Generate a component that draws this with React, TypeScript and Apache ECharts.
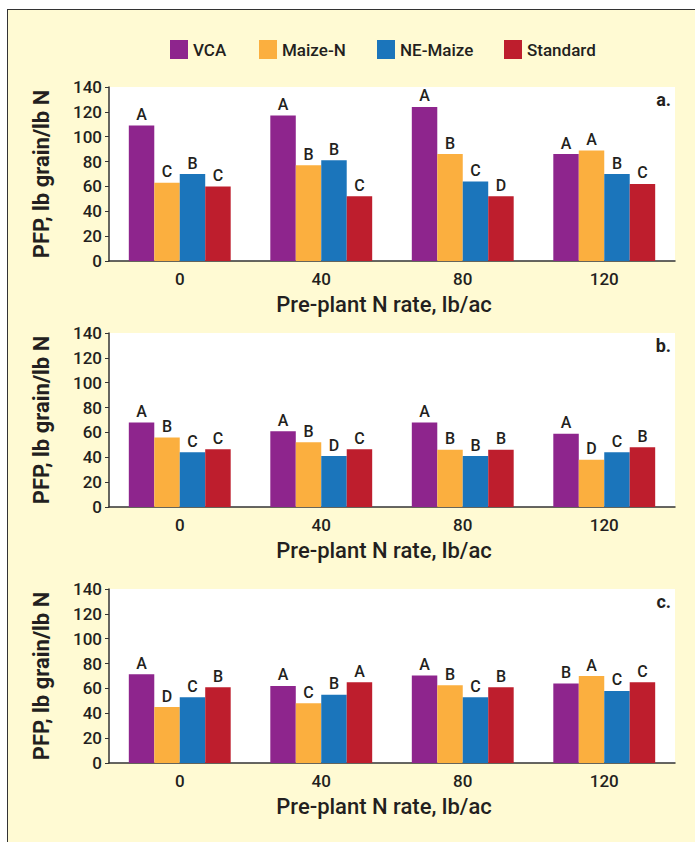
import React, { useEffect, useRef } from "react";
import * as echarts from "echarts";

const categories = ["0", "40", "80", "120"];
const seriesNames = ["VCA", "Maize-N", "NE-Maize", "Standard"];
const seriesColors = ["#8E258D", "#FBAF3F", "#1B75BB", "#BE1E2D"];
const panelLabels = ["a.", "b.", "c."];

// Panel a
const aVCA = [109, 117, 124, 86];
const aMaizeN = [63, 77, 86, 89];
const aNEMaize = [70, 81, 64, 70];
const aStandard = [60, 52, 52, 62];
const aLetters = [
  ["A", "A", "A", "A"],
  ["C", "B", "B", "A"],
  ["B", "B", "C", "B"],
  ["C", "C", "D", "C"],
];

// Panel b
const bVCA = [68, 61, 68, 59];
const bMaizeN = [56, 52, 46, 38];
const bNEMaize = [44, 41, 41, 44];
const bStandard = [46.5, 46.5, 46, 48];
const bLetters = [
  ["A", "A", "A", "A"],
  ["B", "B", "B", "D"],
  ["C", "D", "B", "C"],
  ["C", "C", "B", "B"],
];

// Panel c
const cVCA = [71.5, 62, 70.5, 64];
const cMaizeN = [45, 48, 62.5, 70];
const cNEMaize = [53, 55, 53, 58];
const cStandard = [61, 65, 61, 65];
const cLetters = [
  ["A", "A", "A", "B"],
  ["D", "C", "B", "A"],
  ["C", "B", "C", "C"],
  ["B", "A", "B", "C"],
];

const panels = [
  { values: [aVCA, aMaizeN, aNEMaize, aStandard], letters: aLetters },
  { values: [bVCA, bMaizeN, bNEMaize, bStandard], letters: bLetters },
  { values: [cVCA, cMaizeN, cNEMaize, cStandard], letters: cLetters },
];

const FONT = "Roboto, 'Noto Sans', sans-serif";
const TEXT = "#231F20";
const gridTops = [87, 333, 589];
const GRID_H = 174;
const GRID_LEFT = 109;
const GRID_RIGHT = 20;
const legendLefts = [170, 259, 377, 504];

export default function App() {
  const ref = useRef<HTMLDivElement>(null);

  useEffect(() => {
    if (!ref.current) return;
    const chart = echarts.init(ref.current, undefined, { renderer: "svg" });

    const grid = gridTops.map((top) => ({
      left: GRID_LEFT,
      right: GRID_RIGHT,
      top,
      height: GRID_H,
      show: true,
      backgroundColor: "#FFFFFF",
      borderWidth: 0,
    }));

    const xAxis = gridTops.map((_, i) => ({
      type: "category",
      gridIndex: i,
      data: categories,
      axisLine: { show: true, lineStyle: { color: "#333333", width: 1.5 } },
      axisTick: { show: false },
      axisLabel: { fontSize: 17, fontWeight: 500, color: TEXT, margin: 9, fontFamily: FONT },
      name: "Pre-plant N rate, lb/ac",
      nameLocation: "middle",
      nameGap: 32,
      nameTextStyle: {
        fontSize: 22,
        fontWeight: 500,
        color: TEXT,
        fontFamily: FONT,
        padding: [0, 16, 0, 0],
      },
    }));

    const yAxis = gridTops.map((_, i) => ({
      type: "value",
      gridIndex: i,
      min: 0,
      max: 140,
      interval: 20,
      axisLine: { show: true, lineStyle: { color: "#333333", width: 1.5 } },
      axisTick: { show: true, length: 4, lineStyle: { color: "#333333" } },
      splitLine: { show: false },
      axisLabel: { fontSize: 17, fontWeight: 500, color: TEXT, margin: 7, fontFamily: FONT },
      name: "PFP, lb grain/lb N",
      nameLocation: "middle",
      nameGap: 57,
      nameTextStyle: { fontSize: 22, fontWeight: "bold", color: TEXT, fontFamily: FONT },
    }));

    const series: any[] = [];
    panels.forEach((p, pi) => {
      seriesNames.forEach((name, si) => {
        series.push({
          type: "bar",
          name,
          xAxisIndex: pi,
          yAxisIndex: pi,
          data: p.values[si],
          barGap: "0%",
          barCategoryGap: "28%",
          itemStyle: { color: seriesColors[si] },
          label: {
            show: true,
            position: "top",
            distance: 3,
            fontSize: 16,
            fontWeight: 500,
            color: TEXT,
            fontFamily: FONT,
            formatter: (prm: any) => p.letters[si][prm.dataIndex],
          },
        });
      });
    });

    const legend = seriesNames.map((name, i) => ({
      data: [name],
      left: legendLefts[i],
      top: 40,
      padding: 0,
      itemWidth: 18,
      itemHeight: 19,
      itemGap: 0,
      icon: "rect",
      textStyle: { fontSize: 17, fontWeight: 500, color: TEXT, fontFamily: FONT },
    }));

    const graphic = panelLabels.map((t, i) => ({
      type: "text",
      right: 24,
      top: gridTops[i] + 3,
      style: {
        text: t,
        fontSize: 18,
        fontWeight: "bold",
        fill: TEXT,
        fontFamily: FONT,
      },
    }));

    chart.setOption({
      animation: false,
      backgroundColor: "transparent",
      grid,
      xAxis,
      yAxis,
      series,
      legend,
      graphic,
    });

    return () => chart.dispose();
  }, []);

  return (
    <div style={{ position: "fixed", left: 0, top: 0, width: 695, height: 842, background: "#FFFFFF", overflow: "hidden" }}>
      <div
        style={{
          position: "absolute",
          left: 7,
          top: 9,
          width: 720,
          height: 860,
          background: "#FFFAD3",
          borderLeft: "1px solid #333333",
          borderTop: "1px solid #333333",
        }}
      />
      <div ref={ref} style={{ position: "absolute", left: 0, top: 0, width: 695, height: 842 }} />
    </div>
  );
}
